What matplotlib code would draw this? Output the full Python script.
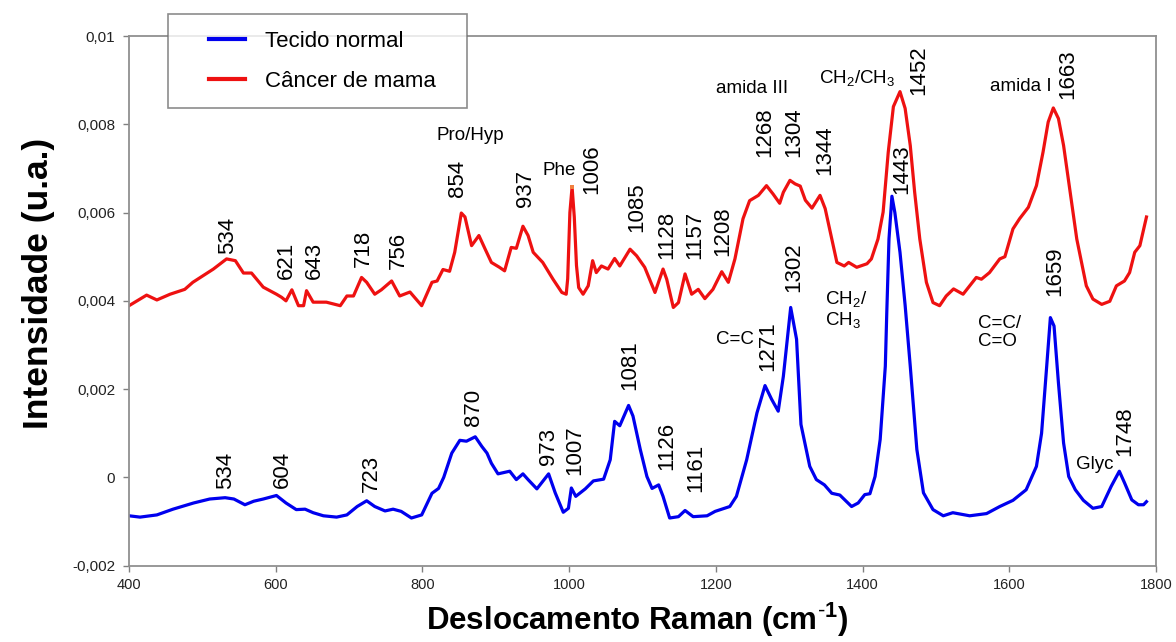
import matplotlib
matplotlib.use("Agg")
import matplotlib.pyplot as plt
from matplotlib.lines import Line2D
from matplotlib.legend_handler import HandlerLine2D

plt.rcParams['font.family'] = ['Liberation Sans', 'DejaVu Sans']
plt.rcParams['mathtext.fontset'] = 'custom'
plt.rcParams['mathtext.rm'] = 'Liberation Sans'
plt.rcParams['mathtext.it'] = 'Liberation Sans:italic'
plt.rcParams['mathtext.bf'] = 'Liberation Sans:bold'

# Spectra
cancer_x = [400, 424, 438, 456, 476, 487, 515, 533, 545, 556, 567, 583, 601, 608, 614, 622,
            631, 638, 642, 651, 669, 688, 697, 706, 717, 724, 735, 744, 758, 769, 783, 799,
            813, 820, 828, 837, 844, 853, 858, 867, 877, 885, 894, 905, 912, 921, 928, 937,
            944, 951, 964, 978, 990, 996, 998, 1001, 1004, 1007, 1010, 1013, 1019, 1026, 1032,
            1037, 1044, 1053, 1062, 1069, 1083, 1092, 1103, 1117, 1128, 1133, 1142, 1149, 1158,
            1167, 1176, 1185, 1196, 1208, 1217, 1226, 1237, 1246, 1258, 1269, 1278, 1287, 1292,
            1301, 1308, 1315, 1322, 1331, 1342, 1349, 1358, 1365, 1375, 1381, 1392, 1406, 1412,
            1421, 1428, 1435, 1442, 1446, 1451, 1458, 1465, 1471, 1478, 1487, 1496, 1505, 1514,
            1524, 1537, 1546, 1555, 1562, 1573, 1587, 1594, 1605, 1614, 1626, 1637, 1646, 1653,
            1660, 1667, 1674, 1683, 1692, 1705, 1714, 1726, 1737, 1746, 1757, 1764, 1771, 1778,
            1787]
cancer_y = [0.00389, 0.00413, 0.00402, 0.00415, 0.00426, 0.00442, 0.00472, 0.00495, 0.00491,
            0.00463, 0.00463, 0.00431, 0.00415, 0.00408, 0.00400, 0.00425, 0.00389, 0.00389,
            0.00423, 0.00397, 0.00397, 0.00389, 0.00411, 0.00411, 0.00453, 0.00442, 0.00415,
            0.00425, 0.00445, 0.00411, 0.00420, 0.00389, 0.00442, 0.00445, 0.00471, 0.00467,
            0.00510, 0.00599, 0.00590, 0.00525, 0.00548, 0.00519, 0.00487, 0.00476, 0.00468,
            0.00521, 0.00519, 0.00569, 0.00548, 0.00510, 0.00487, 0.00449, 0.00419, 0.00415,
            0.00450, 0.00600, 0.00658, 0.00590, 0.00480, 0.00430, 0.00415, 0.00434, 0.00491,
            0.00464, 0.00479, 0.00472, 0.00496, 0.00479, 0.00517, 0.00502, 0.00476, 0.00419,
            0.00472, 0.00449, 0.00385, 0.00396, 0.00461, 0.00415, 0.00426, 0.00405, 0.00426,
            0.00466, 0.00442, 0.00495, 0.00586, 0.00627, 0.00639, 0.00661, 0.00642, 0.00621,
            0.00646, 0.00673, 0.00665, 0.00660, 0.00628, 0.00610, 0.00639, 0.00609, 0.00540,
            0.00487, 0.00479, 0.00487, 0.00476, 0.00484, 0.00495, 0.00540, 0.00601, 0.00737,
            0.00840, 0.00855, 0.00874, 0.00836, 0.00752, 0.00646, 0.00540, 0.00442, 0.00396,
            0.00389, 0.00411, 0.00427, 0.00415, 0.00434, 0.00453, 0.00449, 0.00464, 0.00495,
            0.00500, 0.00563, 0.00586, 0.00612, 0.00661, 0.00737, 0.00805, 0.00837, 0.00813,
            0.00752, 0.00646, 0.00540, 0.00434, 0.00404, 0.00392, 0.00399, 0.00434, 0.00445,
            0.00464, 0.00510, 0.00525, 0.00590]

normal_x = [400, 415, 438, 460, 488, 510, 531, 543, 558, 570, 583, 601, 614, 628, 640, 651,
            665, 683, 697, 711, 724, 735, 749, 760, 771, 785, 799, 813, 822, 829, 840, 851,
            860, 872, 881, 888, 894, 903, 919, 928, 937, 944, 956, 972, 981, 992, 999, 1003,
            1009, 1022, 1033, 1047, 1056, 1062, 1069, 1081, 1087, 1097, 1106, 1113, 1122, 1128,
            1137, 1149, 1158, 1169, 1188, 1199, 1219, 1228, 1242, 1256, 1267, 1276, 1285, 1292,
            1302, 1310, 1316, 1328, 1337, 1348, 1358, 1369, 1385, 1394, 1403, 1410, 1417, 1424,
            1431, 1433, 1436, 1440, 1444, 1451, 1458, 1465, 1474, 1483, 1496, 1510, 1523, 1546,
            1569, 1587, 1605, 1623, 1637, 1644, 1651, 1656, 1661, 1667, 1674, 1681, 1690, 1701,
            1714, 1726, 1739, 1750, 1757, 1767, 1776, 1783, 1787]
normal_y = [-0.00087, -0.00090, -0.00085, -0.00072, -0.00058, -0.00049, -0.00046, -0.00049,
            -0.00062, -0.00054, -0.00049, -0.00041, -0.00058, -0.00073, -0.00072, -0.00080,
            -0.00087, -0.00090, -0.00085, -0.00066, -0.00053, -0.00066, -0.00076, -0.00072,
            -0.00077, -0.00092, -0.00085, -0.00036, -0.00025, 0.00000, 0.00055, 0.00084,
            0.00082, 0.00092, 0.00070, 0.00055, 0.00032, 0.00008, 0.00014, -0.00005, 0.00008,
            -0.00005, -0.00026, 0.00008, -0.00035, -0.00079, -0.00070, -0.00024, -0.00043,
            -0.00026, -0.00008, -0.00004, 0.00040, 0.00127, 0.00117, 0.00163, 0.00139, 0.00063,
            0.00002, -0.00025, -0.00017, -0.00043, -0.00092, -0.00089, -0.00075, -0.00089,
            -0.00087, -0.00077, -0.00066, -0.00043, 0.00040, 0.00146, 0.00208, 0.00177, 0.00150,
            0.00229, 0.00385, 0.00313, 0.00120, 0.00025, -0.00005, -0.00017, -0.00036, -0.00040,
            -0.00066, -0.00058, -0.00039, -0.00037, 0.00002, 0.00086, 0.00252, 0.00374, 0.00540,
            0.00637, 0.00600, 0.00510, 0.00390, 0.00252, 0.00063, -0.00035, -0.00073, -0.00087,
            -0.00080, -0.00087, -0.00082, -0.00066, -0.00052, -0.00028, 0.00025, 0.00100,
            0.00252, 0.00362, 0.00343, 0.00214, 0.00078, 0.00002, -0.00028, -0.00052, -0.00070,
            -0.00066, -0.00020, 0.00014, -0.00012, -0.00051, -0.00062, -0.00062, -0.00055]

y_ticks = [-0.002, 0, 0.002, 0.004, 0.006, 0.008, 0.01]
y_tick_labels = ['-0,002', '0', '0,002', '0,004', '0,006', '0,008', '0,01']
x_ticks = [400, 600, 800, 1000, 1200, 1400, 1600, 1800]

# rotated peak labels: (text, x, y of label bottom)
cancer_peaks = [('534', 535, 0.00506), ('621', 614, 0.00449), ('643', 653, 0.00449),
                ('718', 719, 0.00477), ('756', 767, 0.00472), ('854', 848, 0.00636),
                ('937', 940, 0.00613), ('1006', 1031, 0.00643), ('1085', 1092, 0.00556),
                ('1128', 1133, 0.00495), ('1157', 1171, 0.00495), ('1208', 1210, 0.00502),
                ('1268', 1267, 0.00726), ('1304', 1306, 0.00726), ('1344', 1349, 0.00684),
                ('1452', 1476, 0.00866), ('1663', 1680, 0.00858), ('1443', 1453, 0.00643),
                ('1659', 1662, 0.00411)]
normal_peaks = [('534', 531, -0.00026), ('604', 609, -0.00024), ('723', 731, -0.00034),
                ('870', 869, 0.00116), ('973', 972, 0.00029), ('1007', 1007, 0.00006),
                ('1081', 1083, 0.00198), ('1126', 1133, 0.00017), ('1161', 1172, -0.00034),
                ('1271', 1271, 0.00241), ('1302', 1306, 0.00419), ('1748', 1758, 0.00048)]
# band assignments: (text, x, y, ha)
bands = [('Pro/Hyp', 865, 0.00775, 'center'), ('Phe', 987, 0.00695, 'center'),
         ('amida III', 1249, 0.00881, 'center'), ('CH$_2$/CH$_3$', 1393, 0.00904, 'center'),
         ('amida I', 1616, 0.00885, 'center'), ('C=C', 1226, 0.00313, 'center'),
         ('CH$_2$/\nCH$_3$', 1349, 0.00380, 'left'), ('C=C/\nC=O', 1557, 0.00329, 'left'),
         ('Glyc', 1717, 0.00029, 'center')]

fig = plt.figure(figsize=(11.76, 6.42), dpi=100)
ax = fig.add_axes([0.1097, 0.1189, 0.8733, 0.825])

ax.plot(normal_x, normal_y, color='#0000ee', lw=2.3, label='Tecido normal')
ax.plot(cancer_x, cancer_y, color='#ee1111', lw=2.3, label='Câncer de mama')
i_phe = cancer_y.index(max(cancer_y[40:70]))
ax.plot(cancer_x[i_phe], cancer_y[i_phe], 's', color='#f08040', ms=3, mew=0)

for t, x, y in cancer_peaks + normal_peaks:
    ax.text(x, y, t, rotation=90, ha='center', va='bottom', fontsize=16)
for t, x, y, ha in bands:
    ax.text(x, y, t, ha=ha, va='center', fontsize=13.5, linespacing=1.1)

ax.set_xlim(400, 1800)
ax.set_ylim(-0.002, 0.01)
ax.set_xticks(x_ticks)
ax.set_yticks(y_ticks)
ax.set_yticklabels(y_tick_labels)
ax.tick_params(axis='y', labelsize=11, length=4, width=1, color='#808080', pad=6, labelcolor='#222222')
ax.tick_params(axis='x', labelsize=10.5, length=4, width=1, color='#808080', pad=5, labelcolor='#222222')
for s in ax.spines.values():
    s.set_color('#909090')
    s.set_linewidth(1.3)

ax.set_xlabel('Deslocamento Raman (cm$^{\\mathbf{\\text{-}1}}$)', fontsize=22.5, fontweight='bold')
ax.xaxis.set_label_coords(0.495, -0.066)
ax.set_ylabel('Intensidade (u.a.)', fontsize=25.5, fontweight='bold')
ax.yaxis.set_label_coords(-0.072, 0.532)

leg = ax.legend(loc='upper left', bbox_to_anchor=(0.038, 1.0415, 0.291, 0.0), mode='expand',
                fontsize=16, frameon=True, fancybox=False, borderaxespad=0, borderpad=0.75,
                handlelength=2.7, handletextpad=0.9, labelspacing=0.85,
                handler_map={Line2D: HandlerLine2D(xpad=1.1)})
leg.get_frame().set_edgecolor('#707070')
leg.get_frame().set_linewidth(1.2)
for h in leg.get_lines():
    h.set_linewidth(3)

fig.savefig('out.png', dpi=100)
